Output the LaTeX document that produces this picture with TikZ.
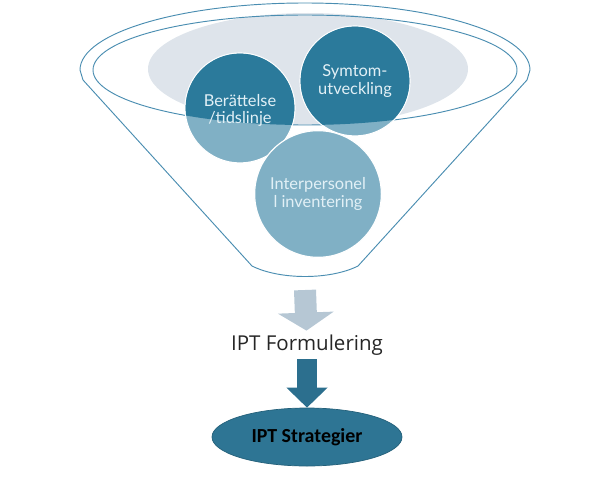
\documentclass[tikz,border=0pt]{standalone}
\usepackage{fontspec}
\setmainfont{Open Sans}
\newfontfamily\ballfont{Lato}
\newfontfamily\stratfont{Carlito}
\usetikzlibrary{arrows.meta,shapes.geometric}
\definecolor{ballDark}{HTML}{2B7A9B}
\definecolor{ballLight}{HTML}{80B0C5}
\definecolor{ballText}{HTML}{E2F0F6}
\definecolor{rimGrey}{HTML}{DEE4EB}
\definecolor{funnelBlue}{HTML}{4A8DB1}
\definecolor{arrowGrey}{HTML}{B6C7D4}
\definecolor{arrowDark}{HTML}{2C6F8E}
\definecolor{stratFill}{HTML}{2E7594}
\definecolor{stratEdge}{HTML}{24607A}
\tikzset{
  ball/.style={circle, draw=white, line width=1pt, fill=ballLight, inner sep=0pt},
  balltext/.style={text=ballText, align=center, font=\ballfont\fontsize{14}{15}\selectfont},
  funnel/.style={draw=funnelBlue, line width=0.8pt},
  blockarrow/.style={line width=#1},
}
\begin{document}
\begin{tikzpicture}[x=0.03cm, y=-0.03cm]
\useasboundingbox (0,0) rectangle (600,480);
\fill[rimGrey] (308,69) ellipse [x radius=160, y radius=56];
\draw[funnel] (305,70) ellipse [x radius=212, y radius=55];
\node[ball, minimum size=3.3cm] (ber) at (240,108) {};
\node[ball, minimum size=3.3cm] (sym) at (355,81) {};
\begin{scope}
\clip (305,70) ellipse [x radius=212, y radius=55];
\fill[ballDark] (ber) circle (1.65cm-0.5pt);
\fill[ballDark] (sym) circle (1.65cm-0.5pt);
\end{scope}
\node[ball, minimum size=3.8cm] (inter) at (318,194) {};
\node[balltext] at ([yshift=-2pt]ber) {Berättelse\\/tidslinje};
\node[balltext] at (sym) {Symtom-\\utveckling};
\node[balltext] at (inter) {Interpersonel\\l inventering};
\draw[funnel] (80,70) arc[start angle=180, end angle=360, x radius=225, y radius=67]
  -- (527,80) -- (358,266) .. controls (330,280) and (280,280) .. (252,266)
  -- (83,80) -- cycle;
\coordinate (neck) at (305,290);
\node[font=\fontsize{17.5}{19}\selectfont, text=black!85] (form) at (307,345) {IPT Formulering};
\node[ellipse, fill=stratFill, draw=stratEdge, line width=0.6pt, minimum width=5.7cm,
  minimum height=1.74cm, inner sep=0pt, font=\stratfont\bfseries\fontsize{17}{19}\selectfont]
  (strat) at (307,437) {IPT Strategier};
\draw[blockarrow=0.66cm, arrowGrey, -{Triangle[width=1.65cm, length=0.54cm]}] (neck) -- (form);
\draw[blockarrow=0.6cm, arrowDark, -{Triangle[width=1.2cm, length=0.6cm]}] (form) -- (strat);
\end{tikzpicture}
\end{document}
